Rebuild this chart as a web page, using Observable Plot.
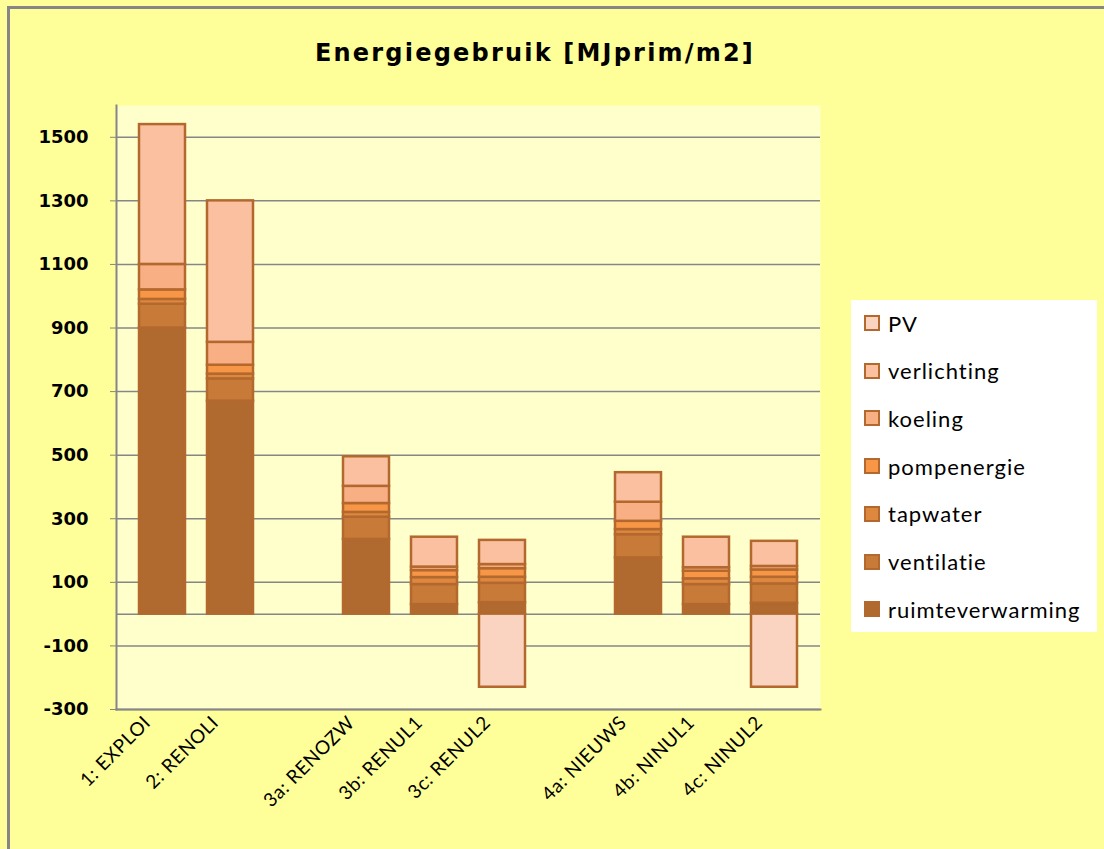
<!DOCTYPE html>
<html>
<head>
<meta charset="utf-8">
<script src="https://cdn.jsdelivr.net/npm/d3@7"></script>
<script src="https://cdn.jsdelivr.net/npm/@observablehq/plot@0.6"></script>
<style>
  html, body { margin: 0; padding: 0; background: #FFFF99; }
  #chart { position: relative; width: 1104px; height: 849px; background: #FFFF99; overflow: hidden; }
  #frameBox { position: absolute; left: 7px; top: 6px; width: 1200px; height: 1000px; border-left: 3px solid #868686; border-top: 3px solid #868686; }
  #title { position: absolute; left: 0; width: 1070px; top: 39px; text-align: center; font-family: "DejaVu Sans", sans-serif; font-weight: bold; font-size: 24px; letter-spacing: 2.2px; color: #000; }
  #plot { position: absolute; left: 0; top: 0; }
  #legend { position: absolute; left: 851px; top: 300px; width: 246px; height: 332px; background: #FFFFFF; }
  .item { position: absolute; left: 13px; height: 24px; display: flex; align-items: center; font-family: Lato, sans-serif; font-size: 22px; letter-spacing: 1px; color: #000; }
  .sw { width: 12px; height: 12px; border: 2px solid #B3692E; margin-right: 8px; }
  .xax text { letter-spacing: 0.6px; }
</style>
</head>
<body>
<div id="chart">
  <div id="frameBox"></div>
  <div id="plot"></div>
  <div id="title">Energiegebruik [MJprim/m2]</div>
  <div id="legend"></div>
</div>
<script>
// Categories (with two empty slots, as in the original chart)
const categories = ["1: EXPLOI", "2: RENOLI", "3a: RENOZW", "3b: RENUL1", "3c: RENUL2", "4a: NIEUWS", "4b: NINUL1", "4c: NINUL2"];
const xDomain = ["1: EXPLOI", "2: RENOLI", " ", "3a: RENOZW", "3b: RENUL1", "3c: RENUL2", "  ", "4a: NIEUWS", "4b: NINUL1", "4c: NINUL2"];

// Series (bottom to top)
const seriesNames = ["ruimteverwarming", "ventilatie", "tapwater", "pompenergie", "koeling", "verlichting", "PV"];
const ruimteverwarming = [900, 670, 235, 30, 36, 177, 30, 34];
const ventilatie       = [75, 70, 70, 63, 61, 73, 63, 61];
const tapwater         = [15, 15, 15, 22, 19, 16, 18, 21];
const pompenergie      = [30, 28, 28, 22, 27, 26, 24, 23];
const koeling          = [80, 72, 54, 11, 13, 60, 11, 11];
const verlichting      = [440, 445, 93, 94, 76, 93, 96, 79];
const PV               = [0, 0, 0, 0, -230, 0, 0, -230];
const seriesColors = ["#B0692E", "#C87A38", "#DE873F", "#F79646", "#F9AF84", "#FAC0A0", "#FAD4C0"];

const yTicks = [-300, -100, 100, 300, 500, 700, 900, 1100, 1300, 1500];

const seriesValues = [ruimteverwarming, ventilatie, tapwater, pompenergie, koeling, verlichting, PV];
const rows = [];
seriesNames.forEach((s, si) => {
  categories.forEach((c, ci) => {
    const v = seriesValues[si][ci];
    if (v !== 0) rows.push({category: c, series: s, value: v});
  });
});

const grid = "#868686";
const chart = Plot.plot({
  width: 1104,
  height: 849,
  marginLeft: 116,
  marginRight: 284,
  marginTop: 105,
  marginBottom: 140,
  style: {background: "transparent", fontFamily: "Lato, sans-serif", color: "#000", overflow: "visible"},
  x: {domain: xDomain, padding: 0.32, label: null},
  y: {domain: [-300, 1600], label: null},
  color: {domain: seriesNames, range: seriesColors},
  marks: [
    Plot.frame({fill: "#FFFFCC", stroke: null}),
    Plot.ruleY(yTicks, {stroke: grid, strokeWidth: 1.5}),
    Plot.ruleY([0], {stroke: grid, strokeWidth: 1.5}),
    Plot.barY(rows, Plot.stackY({x: "category", y: "value", fill: "series", stroke: "#B3692E", strokeWidth: 2.5, inset: 0, order: null})),
    Plot.frame({anchor: "left", stroke: grid, strokeWidth: 2}),
    Plot.frame({anchor: "bottom", stroke: grid, strokeWidth: 2}),
    Plot.axisY(yTicks, {tickSize: 6, tickPadding: 22, stroke: grid, fontSize: 18, fontFamily: "DejaVu Sans", fontWeight: "bold", tickFormat: d => String(d), label: null}),
    Plot.axisX({tickSize: 0, tickRotate: -45, tickPadding: 4, dx: -15, dy: 6, fontSize: 19, className: "xax", label: null})
  ]
});
document.getElementById("plot").appendChild(chart);

const legend = document.getElementById("legend");
const legendOrder = seriesNames.slice().reverse();
legendOrder.forEach((s, i) => {
  const el = document.createElement("div");
  el.className = "item";
  el.style.top = (11 + i * 47.7) + "px";
  const sw = document.createElement("span");
  sw.className = "sw";
  sw.style.background = seriesColors[seriesNames.indexOf(s)];
  el.appendChild(sw);
  el.appendChild(document.createTextNode(s));
  legend.appendChild(el);
});
</script>
</body>
</html>
